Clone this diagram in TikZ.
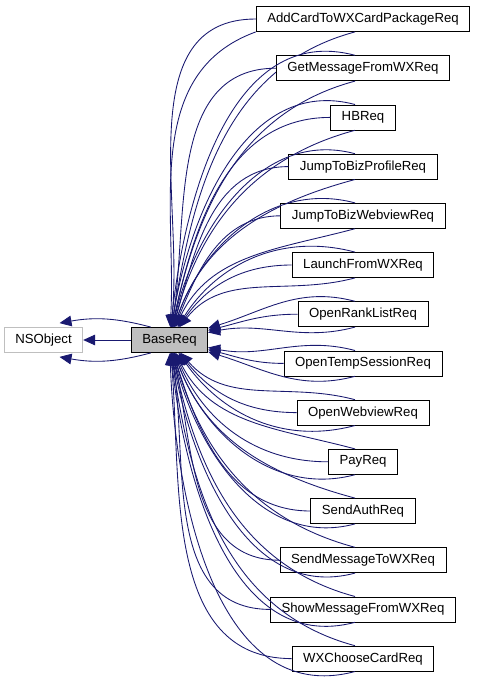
\documentclass[tikz,border=0pt]{standalone}
\usepackage{fontspec}
\setmainfont{Liberation Sans}
\usetikzlibrary{arrows.meta, calc}
\definecolor{edge}{RGB}{25,25,112}
\definecolor{shade}{gray}{0.75}
\definecolor{frame}{gray}{0.75}

\begin{document}
\begin{tikzpicture}[
  x=0.75pt, y=0.75pt,
  font=\fontsize{9.9}{12}\selectfont,
  cls/.style={draw=black, fill=white, line width=.6pt, minimum height=18.75pt,
              inner xsep=8.3pt, inner ysep=0pt},
  inh/.style={draw=edge, line width=.65pt, -{Triangle[length=9pt,width=8pt]}},
]
\useasboundingbox (0,0) rectangle (476,-687);
\node[cls, fill=shade] (base) at (169.5,-340) {BaseReq};
\node[cls, draw=frame] (nsobj) at (43.5,-340) {NSObject};

% root class
\draw[inh] (base) -- (nsobj);
\draw[inh] ([xshift=-14pt]base.north) to[out=165,in=10] ([xshift=12pt,yshift=3pt]nsobj.north);
\draw[inh] ([xshift=-14pt]base.south) to[out=195,in=-10] ([xshift=12pt,yshift=-3pt]nsobj.south);

% derived classes
\foreach \n/\t/\a [count=\i from 0] in {
  addcard/AddCardToWXCardPackageReq/84,
  getmsg/GetMessageFromWXReq/81,
  hb/HBReq/78,
  bizprof/JumpToBizProfileReq/74,
  bizweb/JumpToBizWebviewReq/68,
  launch/LaunchFromWXReq/55,
  ranklist/OpenRankListReq/14,
  tempsess/OpenTempSessionReq/-14,
  webview/OpenWebviewReq/-52,
  pay/PayReq/-67,
  auth/SendAuthReq/-73,
  sendmsg/SendMessageToWXReq/-77,
  showmsg/ShowMessageFromWXReq/-81,
  choose/WXChooseCardReq/-85}{
  \node[cls] (\n) at (363,{-19-49.2*\i}) {\t};
  \pgfmathtruncatemacro{\hi}{\a+3}
  \pgfmathtruncatemacro{\lo}{\a-3}
  \draw[inh] (\n.west) to[out=180,in=\a] (base.\a);
  \ifnum\i=0
    \draw[inh] (\n.south west) to[out=200,in=\hi] (base.\hi);
  \else
    \draw[inh] ([xshift=-6pt]\n.north) to[out=165,in=\hi] (base.\hi);
  \fi
  \draw[inh] ([xshift=-6pt]\n.south) to[out=195,in=\lo] (base.\lo);
}
\end{tikzpicture}
\end{document}
